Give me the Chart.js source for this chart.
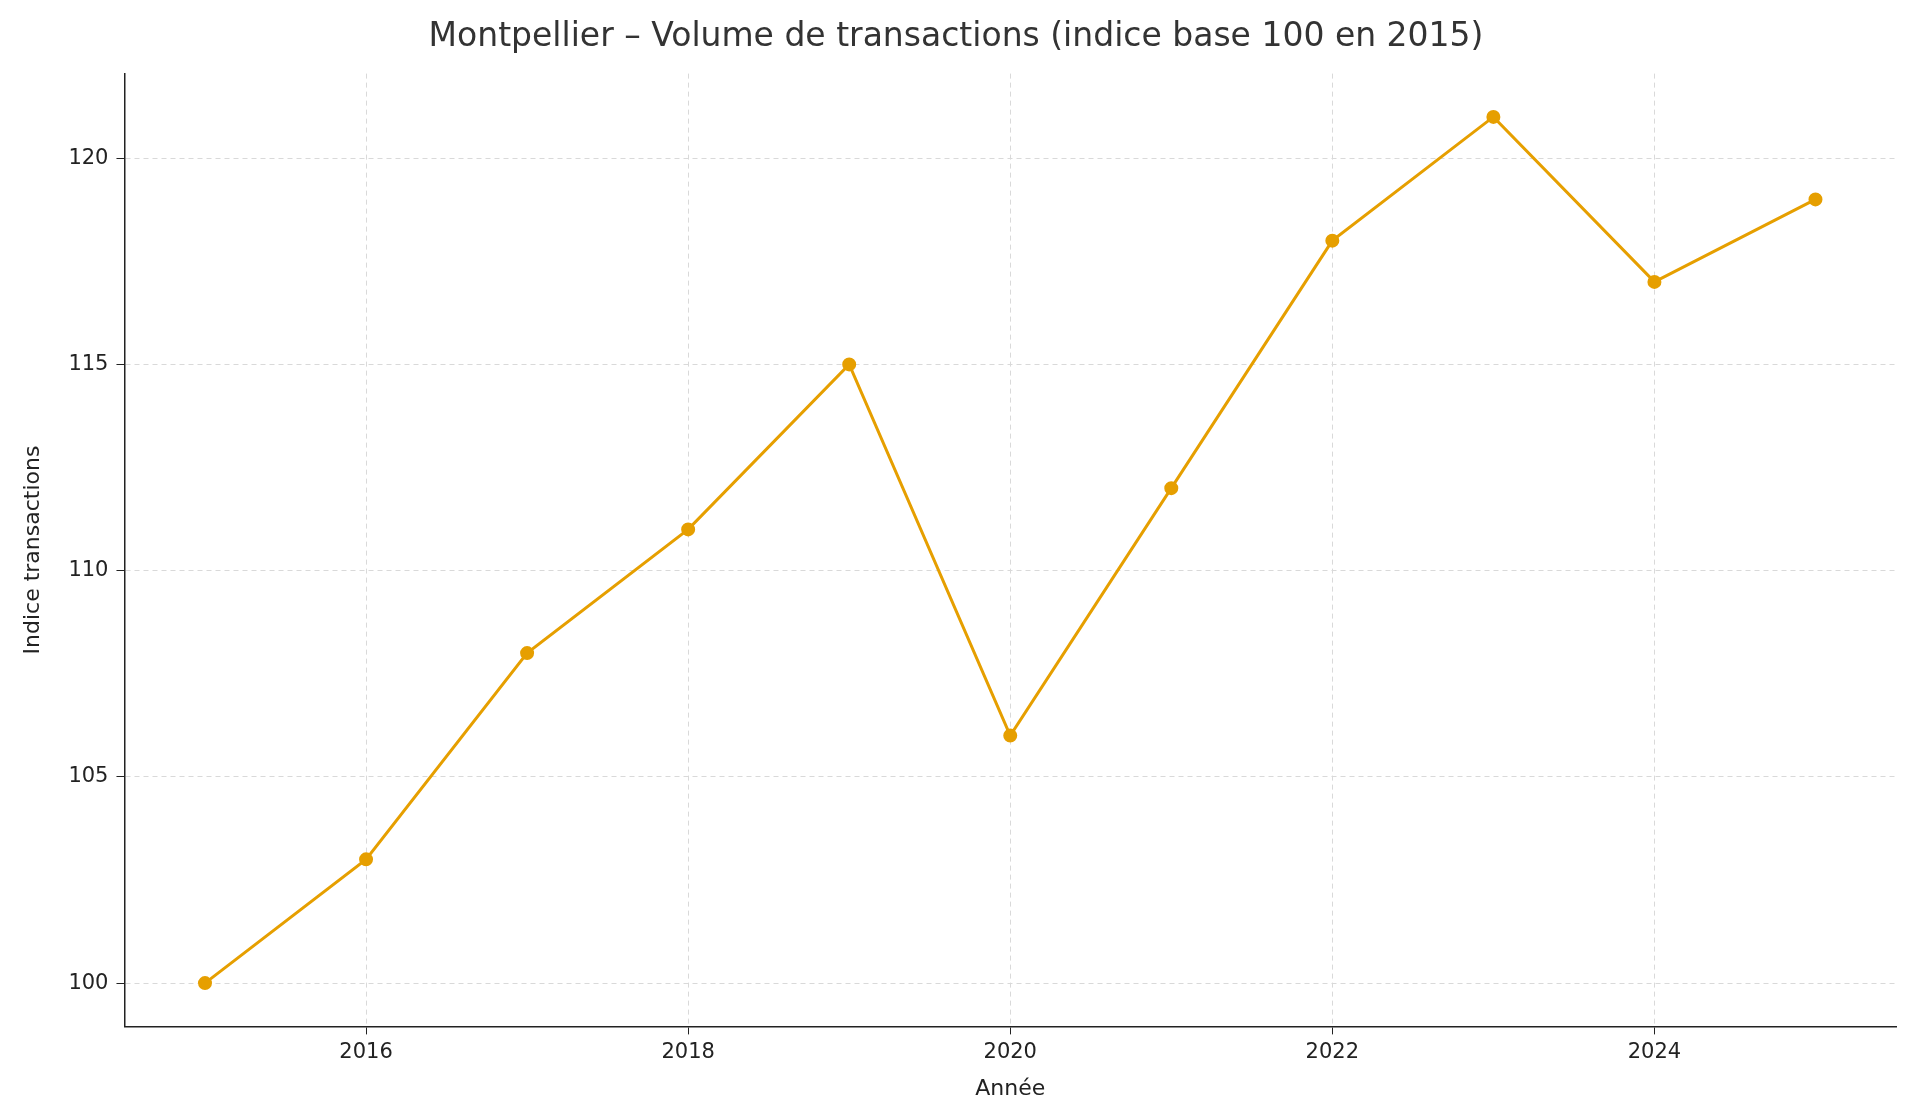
<!DOCTYPE html>
<html>
<head>
<meta charset="utf-8">
<script src="https://cdn.jsdelivr.net/npm/chart.js@4"></script>
<style>
  html, body { margin: 0; padding: 0; background: #fff; }
  #wrap { width: 1920px; height: 1120px; }
</style>
</head>
<body>
<div id="wrap"><canvas id="chart" width="1920" height="1120"></canvas></div>
<script>
const years = [2015, 2016, 2017, 2018, 2019, 2020, 2021, 2022, 2023, 2024, 2025];
const indexValues = [100, 103, 108, 111, 115, 106, 112, 118, 121, 117, 119];
const yTicks = [100, 105, 110, 115, 120];
const xTicks = [2016, 2018, 2020, 2022, 2024];

const orange = '#E69F00';
const font = 'DejaVu Sans';

const ctx = document.getElementById('chart').getContext('2d');
new Chart(ctx, {
    type: 'line',
    data: {
        datasets: [{
            data: years.map((y, i) => ({x: y, y: indexValues[i]})),
            borderColor: orange,
            backgroundColor: orange,
            borderWidth: 3,
            pointRadius: 5.5,
            pointHoverRadius: 5.5,
            tension: 0
        }]
    },
    options: {
        responsive: false,
        animation: false,
        layout: {padding: {left: 16, right: 24, top: 4, bottom: 14}},
        plugins: {
            legend: {display: false},
            tooltip: {enabled: false},
            title: {
                display: true,
                text: 'Montpellier – Volume de transactions (indice base 100 en 2015)',
                color: '#333',
                font: {family: font, size: 33, weight: 'normal'},
                padding: {top: 14, bottom: 16}
            }
        },
        scales: {
            x: {
                type: 'linear',
                min: 2014.5,
                max: 2025.5,
                afterBuildTicks: s => { s.ticks = xTicks.map(v => ({value: v})); },
                ticks: {color: '#222', font: {family: font, size: 21}, padding: 6, callback: v => String(v)},
                grid: {color: '#d9d9d9', lineWidth: 1, tickLength: 8, tickColor: '#222'},
                border: {display: true, color: '#222', width: 1.5, dash: [5, 4]},
                title: {display: true, text: 'Année', color: '#222', font: {family: font, size: 22}, padding: {top: 4}}
            },
            y: {
                min: 98.95,
                max: 122.05,
                afterBuildTicks: s => { s.ticks = yTicks.map(v => ({value: v})); },
                ticks: {color: '#222', font: {family: font, size: 21}, padding: 8},
                grid: {color: '#d9d9d9', lineWidth: 1, tickLength: 8, tickColor: '#222'},
                border: {display: true, color: '#222', width: 1.5, dash: [5, 4]},
                title: {display: true, text: 'Indice transactions', color: '#222', font: {family: font, size: 22}, padding: {bottom: 14}}
            }
        }
    }
});
</script>
</body>
</html>
